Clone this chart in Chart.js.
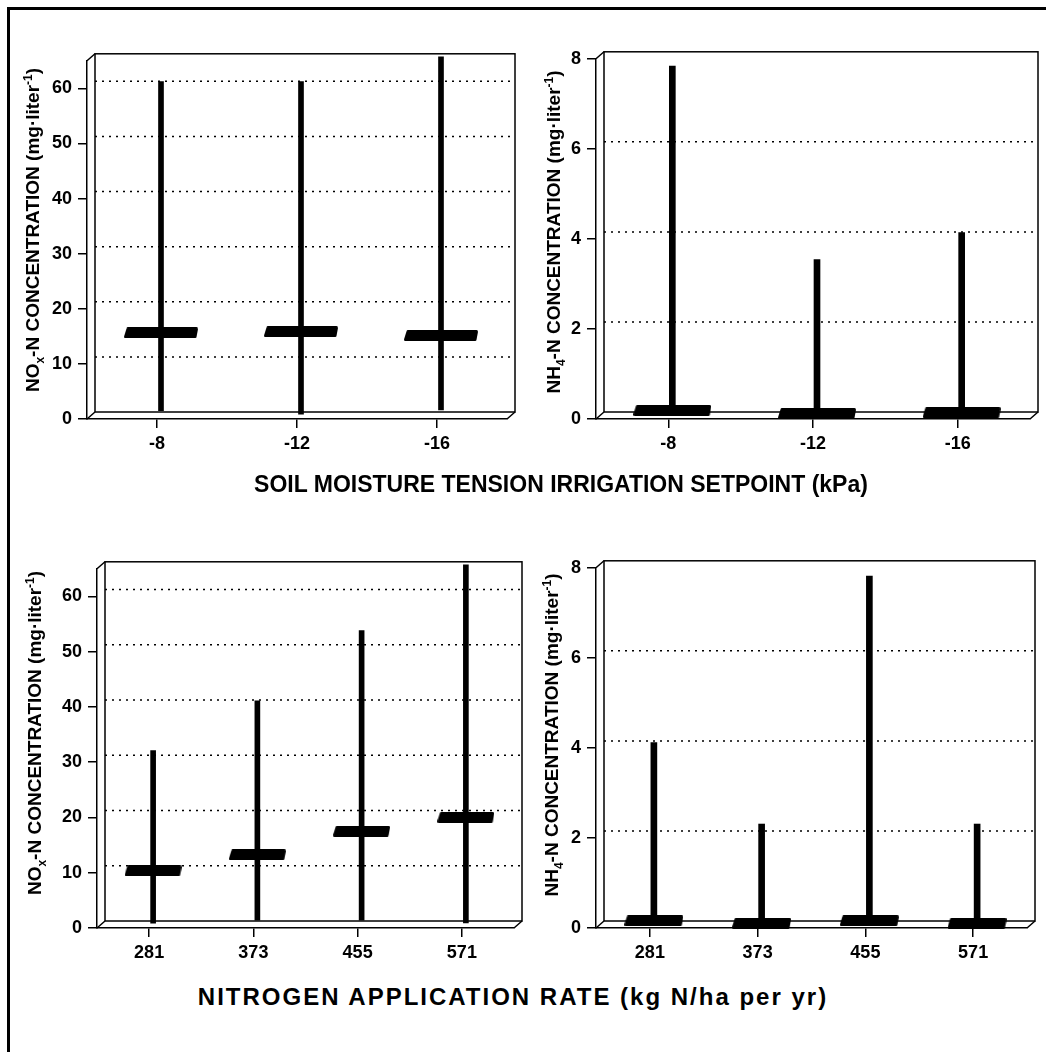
<!DOCTYPE html>
<html>
<head>
<meta charset="utf-8">
<script src="https://cdn.jsdelivr.net/npm/chart.js@4.4.0/dist/chart.umd.min.js"></script>
<style>
body { margin: 0; background: #fff; }
#fig { position: relative; width: 1046px; height: 1052px; overflow: hidden; font-family: 'Liberation Sans', Arial, sans-serif; font-weight: bold; color: #000; }
#fig canvas { position: absolute; }
.frameTop { position: absolute; left: 7px; top: 7px; width: 1039px; height: 3px; background: #000; }
.frameLeft { position: absolute; left: 7px; top: 7px; width: 3px; height: 1045px; background: #000; }
.ytitle { position: absolute; white-space: nowrap; font-size: 19px; transform: translate(-50%, -50%) rotate(-90deg); z-index: 2; }
.xtitle { position: absolute; white-space: nowrap; font-size: 23px; transform: translate(-50%, -50%); z-index: 2; }
sub, sup { font-size: 12px; line-height: 0; }
</style>
</head>
<body>
<div id="fig">
    <div class="frameTop"></div>
    <div class="frameLeft"></div>

    <canvas id="noxSmt" width="492" height="420" style="left:27px;top:44px"></canvas>
    <canvas id="nhSmt" width="506" height="422" style="left:536px;top:42px"></canvas>
    <canvas id="noxN" width="489" height="421" style="left:37px;top:552px"></canvas>
    <canvas id="nhN" width="503" height="422" style="left:536px;top:551px"></canvas>

    <div class="ytitle" style="left:33px;top:230px">NO<sub>x</sub>-N CONCENTRATION (mg·liter<sup>-1</sup>)</div>
    <div class="ytitle" style="left:554px;top:232px">NH<sub>4</sub>-N CONCENTRATION (mg·liter<sup>-1</sup>)</div>
    <div class="ytitle" style="left:35px;top:733px">NO<sub>x</sub>-N CONCENTRATION (mg·liter<sup>-1</sup>)</div>
    <div class="ytitle" style="left:552px;top:735px">NH<sub>4</sub>-N CONCENTRATION (mg·liter<sup>-1</sup>)</div>

    <div class="xtitle" style="left:561px;top:484px">SOIL MOISTURE TENSION IRRIGATION SETPOINT (kPa)</div>
    <div class="xtitle" style="left:513px;top:997px;font-size:24px;letter-spacing:2px">NITROGEN APPLICATION RATE (kg N/ha per yr)</div>
</div>

<script>
// categorias
const smtLabels = ['-8', '-12', '-16'];
const nLabels = ['281', '373', '455', '571'];

// NOx-N x tensao de irrigacao
const noxSmtMin = [0.8, 0, 0.9];
const noxSmtMax = [60.5, 60.5, 65];
const noxSmtMean = [14.9, 15.1, 14.4];

// NH4-N x tensao de irrigacao
const nhSmtMin = [0, 0, 0];
const nhSmtMax = [7.75, 3.45, 4.05];
const nhSmtMean = [0.1, 0.03, 0.05];

// NOx-N x dose de N
const noxNMin = [0, 0.7, 0.7, 0.2];
const noxNMax = [31.4, 40.4, 53.1, 65];
const noxNMean = [9.6, 12.5, 16.8, 19.3];

// NH4-N x dose de N
const nhNMin = [0, 0, 0, 0];
const nhNMax = [4.03, 2.22, 7.73, 2.22];
const nhNMean = [0.07, 0.02, 0.07, 0.02];

// ticks do eixo y
const noxTicks = [0, 10, 20, 30, 40, 50, 60];
const nhTicks = [0, 2, 4, 6, 8];

const FONT = "'Liberation Sans', Arial, sans-serif";
const DX = 8, DY = -7;   // parede do fundo
const MX = 4, MY = -4;   // marcas no meio da profundidade

// barra horizontal da media
function slab(w, h) {
    const c = document.createElement('canvas');
    c.width = w;
    c.height = h;
    const g = c.getContext('2d');
    g.fillStyle = '#000';
    g.strokeStyle = '#000';
    g.lineJoin = 'round';
    g.lineWidth = 3;
    g.beginPath();
    g.moveTo(4, 1.5);
    g.lineTo(w - 1.5, 1.5);
    g.lineTo(w - 3, h - 1.5);
    g.lineTo(1.5, h - 1.5);
    g.closePath();
    g.fill();
    g.stroke();
    return c;
}

// caixa 3D + linhas pontilhadas
const frame3d = {
    id: 'frame3d',
    beforeDatasetsDraw(chart) {
        const { ctx, chartArea: a, scales: { y } } = chart;
        ctx.save();
        ctx.strokeStyle = '#000';
        ctx.lineWidth = 1.5;
        ctx.strokeRect(a.left + DX, a.top + DY, a.right - a.left, a.bottom - a.top);
        ctx.beginPath();
        ctx.moveTo(a.left, a.top);
        ctx.lineTo(a.left + DX, a.top + DY);
        ctx.moveTo(a.left, a.bottom);
        ctx.lineTo(a.left + DX, a.bottom + DY);
        ctx.moveTo(a.right, a.bottom);
        ctx.lineTo(a.right + DX, a.bottom + DY);
        ctx.stroke();
        ctx.setLineDash([2, 5]);
        y.ticks.forEach(t => {
            if (t.value <= y.min || t.value >= y.max) return;
            const py = y.getPixelForValue(t.value) + DY;
            ctx.beginPath();
            ctx.moveTo(a.left + DX, py);
            ctx.lineTo(a.right + DX, py);
            ctx.stroke();
        });
        ctx.restore();
        ctx.save();
        ctx.translate(MX, MY);
    },
    afterDatasetsDraw(chart) {
        chart.ctx.restore();
    }
};

function makeChart(id, labels, lo, hi, mean, yMax, yTicks, barW, slabW) {
    const ranges = lo.map((v, i) => [v, hi[i]]);
    new Chart(document.getElementById(id), {
        type: 'bar',
        data: {
            labels: labels,
            datasets: [{
                type: 'line',
                data: mean,
                showLine: false,
                pointStyle: slab(slabW, 11),
                pointRadius: 6,
                order: 0,
                clip: false
            }, {
                data: ranges,
                backgroundColor: '#000',
                barThickness: barW,
                borderSkipped: false,
                order: 1,
                clip: false
            }]
        },
        options: {
            responsive: false,
            animation: false,
            devicePixelRatio: 1,
            layout: { padding: { top: 12, right: 12, left: 0, bottom: 0 } },
            plugins: {
                legend: { display: false },
                tooltip: { enabled: false }
            },
            scales: {
                x: {
                    grid: { offset: false, drawOnChartArea: false, tickLength: 9, color: '#000', lineWidth: 1.5 },
                    border: { color: '#000', width: 1.5 },
                    ticks: { color: '#000', font: { family: FONT, size: 18, weight: 'bold' }, padding: 5, maxRotation: 0 },
                    afterFit: s => { s.height = 45; }
                },
                y: {
                    min: 0,
                    max: yMax,
                    afterBuildTicks: s => { s.ticks = yTicks.map(v => ({ value: v })); },
                    grid: { drawOnChartArea: false, tickLength: 9, color: '#000', lineWidth: 1.5 },
                    border: { color: '#000', width: 1.5 },
                    ticks: { color: '#000', font: { family: FONT, size: 18, weight: 'bold' }, padding: 6 },
                    afterFit: s => { s.width = 60; }
                }
            }
        },
        plugins: [frame3d]
    });
}

makeChart('noxSmt', smtLabels, noxSmtMin, noxSmtMax, noxSmtMean, 65, noxTicks, 5, 74);
makeChart('nhSmt', smtLabels, nhSmtMin, nhSmtMax, nhSmtMean, 8, nhTicks, 6, 78);
makeChart('noxN', nLabels, noxNMin, noxNMax, noxNMean, 65, noxTicks, 5, 57);
makeChart('nhN', nLabels, nhNMin, nhNMax, nhNMean, 8, nhTicks, 6, 59);
</script>
</body>
</html>
